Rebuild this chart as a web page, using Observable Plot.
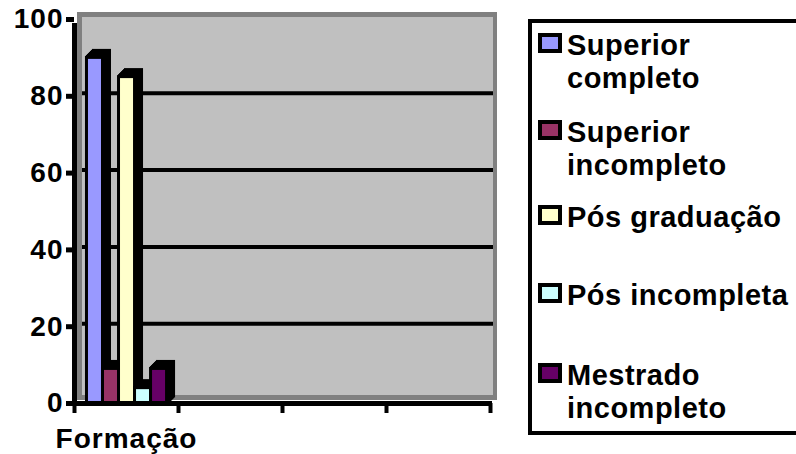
<!DOCTYPE html>
<html>
<head>
<meta charset="utf-8">
<script src="https://cdn.jsdelivr.net/npm/d3@7"></script>
<script src="https://cdn.jsdelivr.net/npm/@observablehq/plot@0.6"></script>
<style>
  html, body { margin: 0; padding: 0; background: #fff; }
  #wrap { position: relative; width: 796px; height: 454px; overflow: hidden; font-family: "Liberation Sans", Arial, sans-serif; }
  #wrap svg text { font-weight: bold; letter-spacing: 1px; }
  #legend { position: absolute; left: 528px; top: 19px; width: 290px; height: 416px; border: 4px solid #000; box-sizing: border-box; background: #fff; }
  .item { position: absolute; left: 538px; }
  .sw { position: absolute; left: 0; width: 24px; height: 20px; border: 4px solid #000; box-sizing: border-box; }
  .lab { position: absolute; left: 29px; width: 226px; font-size: 29px; font-weight: bold; letter-spacing: 0.5px; line-height: 33px; color: #000; white-space: normal; }
</style>
</head>
<body>
<div id="wrap"></div>
<script>
// ---- data ----
const categories = ["Formação"];
const xSlots = 4; // category slots drawn on the x axis
const series = ["Superior completo", "Superior incompleto", "Pós graduação", "Pós incompleta", "Mestrado incompleto"];
const values = [90, 9, 85, 4, 9];
const colors = ["#9999ff", "#993366", "#ffffcc", "#ccffff", "#660066"];
const yTicks = [0, 20, 40, 60, 80, 100];

const data = series.map((s, i) => ({category: categories[0], series: s, value: values[i]}));

// position of each series bar inside the category slot
const inner = d3.scaleBand().domain(series).range([0.12, 0.89]);
const bx1 = d => categories.indexOf(d.category) + inner(d.series);
const bx2 = d => categories.indexOf(d.category) + inner(d.series) + inner.bandwidth();

const depth = 7;
const prisms = d3.range(1, depth + 1).map(k =>
  Plot.rect(data, {x1: bx1, x2: bx2, y1: () => 0, y2: "value", fill: "black", stroke: "black", strokeWidth: 3, dx: k, dy: -k})
);

const chart = Plot.plot({
  width: 796,
  height: 454,
  marginLeft: 74,
  marginRight: 306,
  marginTop: 19,
  marginBottom: 51,
  x: {domain: [0, xSlots], label: null},
  y: {domain: [0, 100], label: null},
  color: {domain: series, range: colors},
  style: {fontFamily: "'Liberation Sans', Arial, sans-serif", fontSize: "28px", background: "white", color: "black"},
  marks: [
    // back wall
    Plot.rect([0], {x1: () => 0, x2: () => xSlots, y1: () => 0, y2: () => 100, fill: "#808080", insetLeft: 3, insetRight: -7, insetTop: -7, insetBottom: 3}),
    Plot.rect([0], {x1: () => 0, x2: () => xSlots, y1: () => 0, y2: () => 100, fill: "#c0c0c0", insetLeft: 8, insetRight: -3, insetTop: -2, insetBottom: 8}),
    // gridlines on the wall
    Plot.ruleY(yTicks.filter(v => v > 0 && v < 100), {x1: () => 0, x2: () => xSlots, stroke: "black", strokeWidth: 4, dy: -3, insetLeft: 8, insetRight: -3}),
    // 3D bars
    ...prisms,
    Plot.rect(data, {x1: bx1, x2: bx2, y1: () => 0, y2: "value", fill: "series", stroke: "black", strokeWidth: 3}),
    // axes
    Plot.ruleX([0], {y1: () => 0, y2: () => 100, stroke: "black", strokeWidth: 5, insetTop: -2, insetBottom: -4}),
    Plot.ruleY([0], {x1: () => 0, x2: () => xSlots, stroke: "black", strokeWidth: 5, insetLeft: -3, insetRight: -2}),
    Plot.axisY({ticks: yTicks, label: null, tickSize: 8, tickPadding: 3, strokeWidth: 5, fontSize: 28, fontWeight: "bold", fill: "black"}),
    Plot.axisX({ticks: d3.range(xSlots + 1), label: null, tickSize: 10, strokeWidth: 4, tickFormat: () => ""}),
    Plot.axisX({ticks: categories.map((c, i) => i + 0.5), label: null, tickSize: 0, tickPadding: 25, tickFormat: v => categories[Math.floor(v)], fontSize: 28, fontWeight: "bold", fill: "black"})
  ]
});

const wrap = document.getElementById("wrap");
wrap.appendChild(chart);

// legend (HTML)
const legend = document.createElement("div");
legend.id = "legend";
wrap.appendChild(legend);
const swatchTops = [33, 120, 205, 283, 363];
series.forEach((s, i) => {
  const item = document.createElement("div");
  item.className = "item";
  item.style.top = swatchTops[i] + "px";
  const sw = document.createElement("div");
  sw.className = "sw";
  sw.style.background = colors[i];
  const lab = document.createElement("div");
  lab.className = "lab";
  lab.style.top = "-4px";
  lab.textContent = s;
  item.appendChild(sw);
  item.appendChild(lab);
  wrap.appendChild(item);
});
</script>
</body>
</html>
